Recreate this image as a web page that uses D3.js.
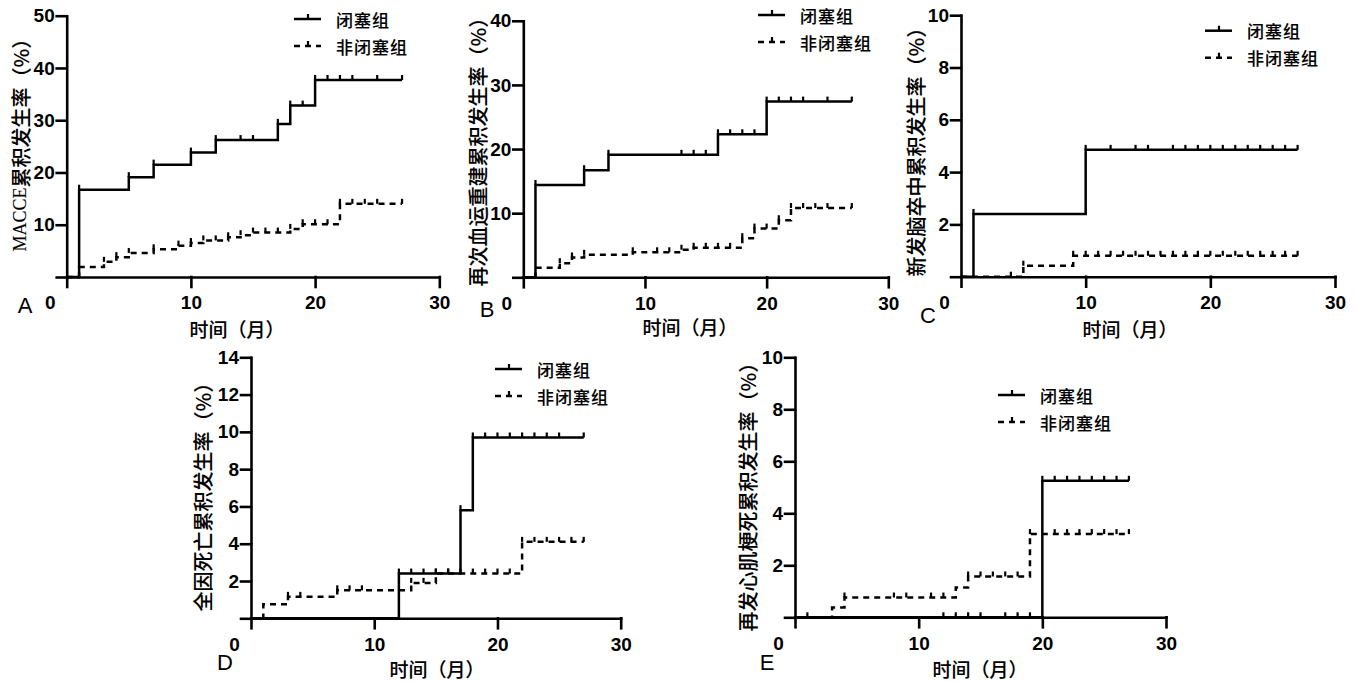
<!DOCTYPE html>
<html>
<head>
<meta charset="utf-8">
<script src="https://cdn.jsdelivr.net/npm/d3@7"></script>
<style>
body { margin: 0; background: #fff; }
svg { display: block; }
.axis path, .axis line { stroke: #000; stroke-width: 2.6px; stroke-linecap: square; }
.axis text { font-family: "Liberation Sans", Arial, sans-serif; font-weight: 700; font-size: 19px; fill: #000; }
.cjk { font-family: "Noto Sans CJK SC", sans-serif; font-weight: 500; fill: #000; stroke: #000; stroke-width: 0.12px; }
</style>
</head>
<body>
<script>
const w = 1358;
const h = 682;

// shared labels
const timeTicks = [0, 10, 20, 30];
const followUpEnd = 27;
const groupNames = ["闭塞组", "非闭塞组"];
const panelLetters = ["A", "B", "C", "D", "E"];
const xTitle = "时间（月）";
const yTitlePrefix = ["MACCE", "", "", "", ""];
const yTitles = ["累积发生率（%）", "再次血运重建累积发生率（%）", "新发脑卒中累积发生率（%）",
                 "全因死亡累积发生率（%）", "再发心肌梗死累积发生率（%）"];
const yMaxes = [50, 40, 10, 14, 10];
const yTickValues = [[0, 10, 20, 30, 40, 50], [0, 10, 20, 30, 40], [0, 2, 4, 6, 8, 10],
                     [0, 2, 4, 6, 8, 10, 12, 14], [0, 2, 4, 6, 8, 10]];

// A: MACCE
const occTimesA = [1, 5, 7, 10, 12, 17, 18, 20];
const occRatesA = [16.7, 19.1, 21.5, 23.8, 26.2, 29.3, 32.8, 37.7];
const occCensorA = [1, 5, 7, 10, 12, 14, 15, 17, 18, 19, 20, 21, 22, 23, 25, 27];
const nonTimesA = [1, 3, 4, 5, 7, 9, 10, 11, 13, 14, 15, 18, 19, 22];
const nonRatesA = [1.9, 2.9, 3.8, 4.6, 5.3, 6.0, 6.5, 7.0, 7.6, 8.0, 8.5, 9.2, 10.1, 14.0];
const nonCensorA = [3, 4, 5, 7, 9, 10, 11, 12, 13, 14, 15, 16, 17, 18, 19, 20, 21, 22, 23, 24, 25, 27];

// B: repeat revascularisation
const occTimesB = [1, 5, 7, 16, 20];
const occRatesB = [14.4, 16.7, 19.1, 22.3, 27.4];
const occCensorB = [1, 5, 7, 13, 14, 15, 16, 17, 18, 19, 20, 21, 22, 23, 25, 27];
const nonTimesB = [1, 3, 4, 5, 9, 13, 14, 18, 19, 21, 22];
const nonRatesB = [1.5, 2.2, 3.1, 3.5, 3.9, 4.3, 4.6, 6.1, 7.6, 8.9, 10.8];
const nonCensorB = [3, 4, 5, 9, 11, 12, 13, 14, 15, 16, 17, 18, 19, 20, 21, 22, 23, 24, 25, 27];

// C: stroke
const occTimesC = [1, 10];
const occRatesC = [2.4, 4.85];
const occCensorC = [1, 10, 12, 14, 15, 17, 18, 19, 20, 21, 22, 23, 24, 25, 26, 27];
const nonTimesC = [5, 9];
const nonRatesC = [0.42, 0.8];
const nonCensorC = [4, 5, 9, 10, 11, 12, 13, 14, 15, 16, 17, 18, 19, 20, 21, 22, 23, 24, 25, 26, 27];

// D: all-cause death
const occTimesD = [12, 17, 18];
const occRatesD = [2.4, 5.8, 9.7];
const occCensorD = [12, 13, 14, 15, 16, 17, 18, 19, 20, 21, 22, 23, 24, 25, 27];
const nonTimesD = [1, 3, 7, 13, 15, 22];
const nonRatesD = [0.75, 1.15, 1.5, 1.9, 2.4, 4.1];
const nonCensorD = [3, 4, 7, 8, 9, 13, 14, 15, 16, 17, 18, 19, 20, 21, 22, 23, 24, 25, 26, 27];

// E: recurrent MI
const occTimesE = [20];
const occRatesE = [5.25];
const occCensorE = [1, 12, 13, 14, 15, 17, 18, 19, 20, 21, 22, 23, 24, 25, 26, 27];
const nonTimesE = [3, 4, 13, 14, 19];
const nonRatesE = [0.38, 0.76, 1.15, 1.57, 3.2];
const nonCensorE = [4, 8, 9, 11, 12, 14, 15, 16, 17, 18, 19, 21, 22, 23, 24, 25, 26, 27];

const series = [
    [[occTimesA, occRatesA, occCensorA], [nonTimesA, nonRatesA, nonCensorA]],
    [[occTimesB, occRatesB, occCensorB], [nonTimesB, nonRatesB, nonCensorB]],
    [[occTimesC, occRatesC, occCensorC], [nonTimesC, nonRatesC, nonCensorC]],
    [[occTimesD, occRatesD, occCensorD], [nonTimesD, nonRatesD, nonCensorD]],
    [[occTimesE, occRatesE, occCensorE], [nonTimesE, nonRatesE, nonCensorE]]
];

// where each panel sits on the page
const layout = [
    {x0: 66.7, x1: 439.3, top: 15.7, bottom: 277, legX: 294, legY: 19, letX: 25, letY: 313, xtX: 237, xtY: 328, ytX: 20, ytY: 140},
    {x0: 523.3, x1: 888.3, top: 20.8, bottom: 277.3, legX: 758, legY: 15, letX: 487, letY: 317, xtX: 690, xtY: 326, ytX: 477, ytY: 147},
    {x0: 961, x1: 1335, top: 15.2, bottom: 276.7, legX: 1205, legY: 30.7, letX: 928, letY: 323, xtX: 1130, xtY: 328, ytX: 915, ytY: 147},
    {x0: 251, x1: 620.7, top: 357.3, bottom: 618.3, legX: 495, legY: 369, letX: 225, letY: 670, xtX: 437, xtY: 668, ytX: 202, ytY: 492},
    {x0: 795, x1: 1166, top: 357.3, bottom: 617.3, legX: 998, legY: 395, letX: 767, letY: 670, xtX: 980, xtY: 668, ytX: 747, ytY: 492}
];

const dash = "6,5";

let svg = d3.select("body")
            .append("svg")
            .attr("width", w)
            .attr("height", h);

svg.append("rect").attr("width", w).attr("height", h).attr("fill", "#fff");

function levelAt(times, rates, t) {
    let i = d3.bisectRight(times, t);
    return i === 0 ? 0 : rates[i - 1];
}

function styleAxis(sel) {
    sel.attr("font-family", "Liberation Sans, Arial, sans-serif")
       .attr("font-size", 19)
       .attr("font-weight", "bold");
}

function drawPanel(k) {
    let p = layout[k];
    let x = d3.scaleLinear().domain([0, 30]).range([p.x0, p.x1]);
    let y = d3.scaleLinear().domain([0, yMaxes[k]]).range([p.bottom, p.top]);
    let g = svg.append("g");

    // axes
    g.append("g")
        .attr("class", "axis")
        .attr("transform", "translate(" + p.x0 + ",0)")
        .call(d3.axisLeft(y).tickValues(yTickValues[k]).tickSize(10).tickSizeOuter(0).tickPadding(2)
                .tickFormat((d) => d === 0 ? "" : d))
        .call(styleAxis);
    let xa = g.append("g")
        .attr("class", "axis")
        .attr("transform", "translate(0," + p.bottom + ")")
        .call(d3.axisBottom(x).tickValues(timeTicks).tickSize(10).tickSizeOuter(0).tickPadding(9))
        .call(styleAxis);
    xa.selectAll(".tick").filter((d) => d === 0).select("text").attr("x", -17);

    // step curves
    let line = d3.line()
        .x((d) => x(d[0]))
        .y((d) => y(d[1]))
        .curve(d3.curveStepAfter);

    series[k].forEach((s, j) => {
        let [times, rates, censor] = s;
        let pts = [[0, 0]].concat(times.map((t, i) => [t, rates[i]]));
        pts.push([followUpEnd, rates[rates.length - 1]]);
        g.append("path")
            .attr("d", line(pts))
            .attr("fill", "none")
            .attr("stroke", "#000")
            .attr("stroke-width", 2.5)
            .attr("stroke-dasharray", j === 1 ? dash : null);
        g.selectAll(null)
            .data(censor)
            .enter()
            .append("line")
            .attr("x1", (t) => x(t))
            .attr("x2", (t) => x(t))
            .attr("y1", (t) => y(levelAt(times, rates, t)))
            .attr("y2", (t) => y(levelAt(times, rates, t)) - 5)
            .attr("stroke", "#000")
            .attr("stroke-width", 2.2);
    });

    // legend
    groupNames.forEach((name, j) => {
        let ly = p.legY + j * 27;
        g.append("line")
            .attr("x1", p.legX).attr("x2", p.legX + 27)
            .attr("y1", ly).attr("y2", ly)
            .attr("stroke", "#000").attr("stroke-width", 2.5)
            .attr("stroke-dasharray", j === 1 ? dash : null);
        g.append("line")
            .attr("x1", p.legX + 14).attr("x2", p.legX + 14)
            .attr("y1", ly).attr("y2", ly - 5)
            .attr("stroke", "#000").attr("stroke-width", 2.2);
        g.append("text")
            .attr("class", "cjk")
            .attr("x", p.legX + 42)
            .attr("y", ly)
            .attr("dominant-baseline", "central")
            .attr("font-size", 17)
            .attr("letter-spacing", 1)
            .text(name);
    });

    // panel letter
    g.append("text")
        .attr("x", p.letX)
        .attr("y", p.letY)
        .attr("text-anchor", "middle")
        .attr("font-family", "Liberation Sans, Arial, sans-serif")
        .attr("font-size", 22)
        .text(panelLetters[k]);

    // axis titles
    g.append("text")
        .attr("class", "cjk")
        .attr("x", p.xtX)
        .attr("y", p.xtY)
        .attr("text-anchor", "middle")
        .attr("dominant-baseline", "central")
        .attr("font-size", 19)
        .text(xTitle);
    let yt = g.append("text")
        .attr("class", "cjk")
        .attr("transform", "translate(" + p.ytX + "," + p.ytY + ") rotate(-90)")
        .attr("text-anchor", "middle")
        .attr("dominant-baseline", "central")
        .attr("font-size", 20);
    if (yTitlePrefix[k]) {
        yt.append("tspan")
            .attr("font-family", "Liberation Serif, serif")
            .attr("font-size", 18)
            .text(yTitlePrefix[k]);
    }
    yt.append("tspan").text(yTitles[k]);
}

for (let k = 0; k < layout.length; k++) {
    drawPanel(k);
}
</script>
</body>
</html>
